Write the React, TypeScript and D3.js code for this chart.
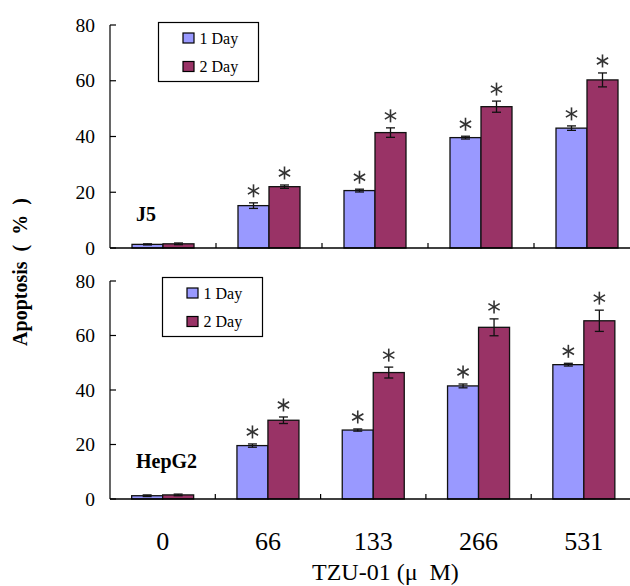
import { Fragment } from "react"
import { scaleBand, scaleLinear } from "d3"

const doses = ["0", "66", "133", "266", "531"]
const seriesNames = ["1 Day", "2 Day"]
const colors = ["#9999FF", "#993366"]
const yTicks = [0, 20, 40, 60, 80]

// J5 panel
const j5Day1 = [1.3, 15.2, 20.6, 39.6, 43.0]
const j5Day1Err = [0.2, 1.0, 0.5, 0.5, 0.8]
const j5Day2 = [1.5, 22.0, 41.4, 50.7, 60.3]
const j5Day2Err = [0.3, 0.6, 1.7, 2.0, 2.5]
const j5Star = [false, true, true, true, true]

// HepG2 panel
const hepDay1 = [1.2, 19.6, 25.3, 41.5, 49.3]
const hepDay1Err = [0.3, 0.6, 0.4, 0.7, 0.5]
const hepDay2 = [1.5, 28.9, 46.4, 63.0, 65.4]
const hepDay2Err = [0.3, 1.2, 2.0, 3.1, 3.9]
const hepStar = [false, true, true, true, true]

const serif = "Liberation Serif"
const X0 = 110
const BAR_W = 31

function Star({ cx, cy }: { cx: number; cy: number }) {
  const r = 6.5
  return (
    <g stroke="#333" strokeWidth={1.6}>
      {[90, 30, 150].map((a) => {
        const rad = (a * Math.PI) / 180
        return <line key={a} x1={cx - r * Math.cos(rad)} y1={cy - r * Math.sin(rad)} x2={cx + r * Math.cos(rad)} y2={cy + r * Math.sin(rad)} />
      })}
    </g>
  )
}

function Panel({ label, labelY, y0, y1, xEnd, day1, day1Err, day2, day2Err, stars, legendX, legendY, showTicks }: any) {
  const x = scaleBand().domain(doses).range([X0, xEnd])
  const y = scaleLinear().domain([0, 80]).range([y0, y1])
  const series = [
    { v: day1, e: day1Err },
    { v: day2, e: day2Err },
  ]
  return (
    <g>
      <line x1={X0} x2={X0} y1={y(80)} y2={y(0)} stroke="#000" strokeWidth={1.2} />
      {yTicks.map((t) => (
        <Fragment key={t}>
          <line x1={X0} x2={X0 + 6} y1={y(t)} y2={y(t)} stroke="#000" strokeWidth={1.2} />
          <text x={95} y={y(t) + 6.5} textAnchor="end" style={{ fontFamily: serif, fontSize: 19.5 }}>{t}</text>
        </Fragment>
      ))}
      {doses.map((d, i) => {
        const cx = x(d)! + x.bandwidth() / 2
        return series.map((s, k) => {
          const bx = cx - BAR_W + k * BAR_W
          const top = y(s.v[i])
          const mx = bx + BAR_W / 2
          const hi = y(s.v[i] + s.e[i])
          const lo = y(s.v[i] - s.e[i])
          return (
            <g key={d + k}>
              <rect x={bx} y={top} width={BAR_W} height={y(0) - top} fill={colors[k]} stroke="#111" strokeWidth={1.3} />
              <g stroke="#111" strokeWidth={1.3}>
                <line x1={mx} x2={mx} y1={hi} y2={lo} />
                <line x1={mx - 4.5} x2={mx + 4.5} y1={hi} y2={hi} />
                <line x1={mx - 4.5} x2={mx + 4.5} y1={lo} y2={lo} />
              </g>
              {stars[i] && <Star cx={mx} cy={hi - 12} />}
            </g>
          )
        })
      })}
      <line x1={X0} x2={630} y1={y(0)} y2={y(0)} stroke="#000" strokeWidth={1.3} />
      {doses.slice(1).map((d) => (
        <line key={d} x1={x(d)!} x2={x(d)!} y1={y(0)} y2={y(0) - 5} stroke="#000" strokeWidth={1.2} />
      ))}
      <text x={136} y={labelY} style={{ fontFamily: serif, fontWeight: "bold", fontSize: 20 }}>{label}</text>
      <g transform={`translate(${legendX},${legendY})`}>
        <rect width={100} height={59} fill="#fff" stroke="#000" strokeWidth={1.2} />
        {seriesNames.map((n, k) => (
          <Fragment key={n}>
            <rect x={24.5} y={10.5 + k * 28.5} width={11} height={10} fill={colors[k]} stroke="#000" strokeWidth={1.2} />
            <text x={41} y={21 + k * 28.5} style={{ fontFamily: serif, fontSize: 16 }}>{n}</text>
          </Fragment>
        ))}
      </g>
      {showTicks && doses.map((d) => (
        <text key={d} x={x(d)! + x.bandwidth() / 2} y={550} textAnchor="middle" style={{ fontFamily: serif, fontSize: 26 }}>{d}</text>
      ))}
    </g>
  )
}

export default function App() {
  return (
    <svg width={630} height={586} style={{ position: "absolute", left: 0, top: 0, background: "#fff" }}>
      <Panel label="J5" labelY={221} y0={248} y1={25} xEnd={640} day1={j5Day1} day1Err={j5Day1Err} day2={j5Day2} day2Err={j5Day2Err} stars={j5Star} legendX={158.5} legendY={22.5} showTicks={false} />
      <Panel label="HepG2" labelY={468} y0={499} y1={281} xEnd={636.5} day1={hepDay1} day1Err={hepDay1Err} day2={hepDay2} day2Err={hepDay2Err} stars={hepStar} legendX={162.5} legendY={277.5} showTicks={true} />
      <text x={312} y={580} style={{ fontFamily: serif, fontSize: 24, whiteSpace: "pre" }}>{"TZU-01 (μ  M)"}</text>
      <text transform="translate(27,272) rotate(-90)" textAnchor="middle" style={{ fontFamily: serif, fontWeight: "bold", fontSize: 20, whiteSpace: "pre" }}>{"Apoptosis  (  %  )"}</text>
    </svg>
  )
}
